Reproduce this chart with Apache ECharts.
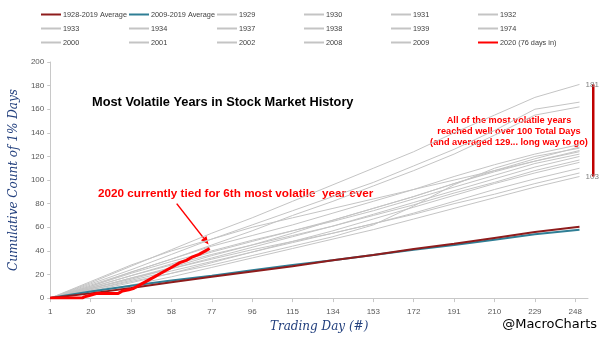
<!DOCTYPE html>
<html>
<head>
<meta charset="utf-8">
<script src="https://cdn.jsdelivr.net/npm/echarts@6/dist/echarts.min.js"></script>
<style>
html,body{margin:0;padding:0;background:#fff;}
#c{width:600px;height:338px;}
</style>
</head>
<body>
<div id="c"></div>
<script>
// ---- data ----
const sampleDays = [1, 20, 39, 58, 77, 96, 115, 134, 153, 172, 191, 210, 229, 250];
const xTicks = [1, 20, 39, 58, 77, 96, 115, 134, 153, 172, 191, 210, 229, 248];

const avg1928_2019 = [0, 4, 8.5, 13.5, 18, 22.5, 27, 32, 36.5, 41.5, 46, 51, 56, 60.5];
const avg2009_2019 = [0, 5.5, 10.5, 15, 19, 23.5, 28, 32, 36.5, 41, 45, 49.5, 54, 58];

const y1929 = [0, 9, 19, 29, 39, 48, 57, 66, 76, 86, 97, 107, 116, 124];
const y1930 = [0, 8, 17, 26, 36, 45, 55, 66, 76, 86, 97, 108, 118, 128];
const y1931 = [0, 10, 22, 33, 45, 57, 70, 82, 95, 108, 122, 138, 155, 162];
const y1932 = [0, 13, 27, 41, 55, 68, 82, 96, 110, 124, 140, 155, 170, 181];
const y1933 = [0, 12, 24, 37, 50, 62, 74, 86, 98, 112, 126, 142, 160, 166];
const y1934 = [0, 9, 19, 28, 37, 45, 53, 61, 70, 79, 89, 98, 108, 117];
const y1937 = [0, 8, 16, 25, 34, 43, 52, 61, 71, 81, 91, 101, 111, 120];
const y1938 = [0, 11, 22, 33, 44, 53, 62, 72, 82, 92, 103, 113, 122, 130];
const y1939 = [0, 5, 11, 18, 26, 34, 42, 50, 58, 67, 76, 85, 94, 103];
const y1974 = [0, 6, 13, 21, 30, 39, 48, 57, 67, 77, 87, 97, 106, 115];
const y2000 = [0, 7, 15, 23, 31, 39, 47, 55, 63, 72, 82, 92, 101, 110];
const y2001 = [0, 8, 17, 25, 33, 41, 48, 55, 63, 71, 80, 88, 97, 106];
const y2002 = [0, 10, 21, 31, 40, 49, 57, 65, 74, 84, 94, 104, 114, 122];
const y2008 = [0, 7, 14, 21, 28, 36, 44, 52, 62, 78, 96, 110, 120, 127];
const y2009 = [0, 14, 28, 40, 50, 60, 68, 76, 84, 92, 100, 108, 116, 125];

const days2020 = [1, 16, 17, 19, 21, 23, 33, 35, 38, 40, 42, 44, 47, 50, 53, 56, 59, 62, 65, 68, 71, 74, 76];
const vals2020 = [0, 0, 1, 2, 3, 4, 4, 6, 7, 8, 10, 12, 15, 18, 21, 24, 27, 30, 32, 35, 37, 40, 42];

const grayYears = [
  ['1929', y1929], ['1930', y1930], ['1931', y1931], ['1932', y1932], ['1933', y1933],
  ['1934', y1934], ['1937', y1937], ['1938', y1938], ['1939', y1939], ['1974', y1974],
  ['2000', y2000], ['2001', y2001], ['2002', y2002], ['2008', y2008], ['2009', y2009]
];
const legendCols = [
  ['1928-2019 Average', '1933', '2000'],
  ['2009-2019 Average', '1934', '2001'],
  ['1929', '1937', '2002'],
  ['1930', '1938', '2008'],
  ['1931', '1939', '2009'],
  ['1932', '1974', '2020 (76 days in)']
];
const legendLefts = [40, 128, 216, 303, 390, 477];

// ---- build ----
(function () {
const pairs = (xs, ys) => xs.map((d, i) => [d, ys[i]]);
const FONT = "'Liberation Sans', Arial, sans-serif";
const series = [];
grayYears.forEach(([name, arr]) => {
  const s = {
    name, type: 'line', symbol: 'none', data: pairs(sampleDays, arr),
    lineStyle: { color: '#C4C4C4', width: 1 }, itemStyle: { color: '#C4C4C4' },
    emphasis: { disabled: true }, z: 2
  };
  if (name === '1932' || name === '1939') {
    s.endLabel = { show: true, distance: 6, color: '#808080', fontSize: 8, fontFamily: FONT,
      formatter: p => String(p.value[1]) };
  }
  series.push(s);
});
series.push({ name: '1928-2019 Average', type: 'line', symbol: 'none', data: pairs(sampleDays, avg1928_2019),
  lineStyle: { color: '#8E1C1C', width: 2 }, itemStyle: { color: '#8E1C1C' }, z: 4 });
series.push({ name: '2009-2019 Average', type: 'line', symbol: 'none', data: pairs(sampleDays, avg2009_2019),
  lineStyle: { color: '#2F7E95', width: 2 }, itemStyle: { color: '#2F7E95' }, z: 3 });
series.push({ name: '2020 (76 days in)', type: 'line', symbol: 'none', data: pairs(days2020, vals2020),
  lineStyle: { color: '#FF0000', width: 3 }, itemStyle: { color: '#FF0000' }, z: 6 });

const legends = legendCols.map((col, i) => ({
  data: col, orient: 'vertical', left: legendLefts[i] - 5, top: 6,
  itemWidth: 20, itemHeight: 8, itemGap: 7, selectedMode: false,
  itemStyle: { opacity: 0 },
  textStyle: { fontSize: 7.3, color: '#404040', fontFamily: FONT, padding: [0, 0, 0, -3] }
}));

const chart = echarts.init(document.getElementById('c'), null, { renderer: 'canvas' });
chart.setOption({
  animation: false,
  backgroundColor: '#fff',
  legend: legends,
  grid: { left: 48, right: 12, top: 62, bottom: 35, containLabel: false },
  xAxis: {
    type: 'value', min: 1, max: 254,
    name: 'Trading Day (#)', nameLocation: 'middle', nameGap: 22,
    nameTextStyle: { fontFamily: "'DejaVu Serif', serif", fontStyle: 'italic', fontSize: 12, color: '#23407E' },
    axisLine: { lineStyle: { color: '#C8C8C8' } },
    axisTick: { show: true, length: 4, customValues: xTicks, lineStyle: { color: '#C8C8C8' } },
    axisLabel: { customValues: xTicks, fontSize: 8, color: '#595959', fontFamily: FONT, margin: 10 },
    splitLine: { show: false }
  },
  yAxis: {
    type: 'value', min: 0, max: 200, interval: 20,
    name: 'Cumulative Count of 1% Days', nameLocation: 'middle', nameGap: 27,
    nameTextStyle: { fontFamily: "'DejaVu Serif', serif", fontStyle: 'italic', fontSize: 12, color: '#23407E' },
    axisLine: { show: true, lineStyle: { color: '#C8C8C8' } },
    axisTick: { show: true, length: 3, lineStyle: { color: '#C8C8C8' } },
    axisLabel: { fontSize: 8, color: '#595959', fontFamily: FONT, margin: 6 },
    splitLine: { show: false }
  },
  series
});

// ---- annotations ----
const pTop = chart.convertToPixel({ gridIndex: 0 }, [1, y1932[y1932.length - 1]]);
const pBot = chart.convertToPixel({ gridIndex: 0 }, [1, y1939[y1939.length - 1]]);
const tip = chart.convertToPixel({ gridIndex: 0 }, [75.5, 45.5]);
const tail = chart.convertToPixel({ gridIndex: 0 }, [60.5, 80]);
const dx = tip[0] - tail[0], dy = tip[1] - tail[1], L = Math.hypot(dx, dy);
const ux = dx / L, uy = dy / L, hl = 8, hw = 3.5;
const bx = tip[0] - ux * hl, by = tip[1] - uy * hl;

chart.setOption({
  graphic: [
    { type: 'text', left: 92, top: 96, silent: true,
      style: { text: 'Most Volatile Years in Stock Market History', font: "bold 12.8px " + FONT, fill: '#000' } },
    { type: 'text', left: 98, top: 188, silent: true,
      style: { text: '2020 currently tied for 6th most volatile  year ever', font: "bold 11.7px " + FONT, fill: '#FF0000' } },
    { type: 'text', x: 509, y: 115, silent: true,
      style: { text: 'All of the most volatile years\nreached well over 100 Total Days\n(and averaged 129... long way to go)',
        font: "bold 9.2px " + FONT, fill: '#FF0000', align: 'center', lineHeight: 11 } },
    { type: 'line', silent: true, shape: { x1: tail[0], y1: tail[1], x2: bx, y2: by },
      style: { stroke: '#FF0000', lineWidth: 1.5 } },
    { type: 'polygon', silent: true,
      shape: { points: [[tip[0], tip[1]], [bx - uy * hw, by + ux * hw], [bx + uy * hw, by - ux * hw]] },
      style: { fill: '#FF0000' } },
    { type: 'rect', silent: true, shape: { x: 592, y: pTop[1], width: 2.5, height: pBot[1] - pTop[1] },
      style: { fill: '#C00000' } },
    { type: 'text', right: 3, top: 318, silent: true,
      style: { text: '@MacroCharts', font: "13px 'DejaVu Sans', sans-serif", fill: '#000' } }
  ]
});
})();
</script>
</body>
</html>
